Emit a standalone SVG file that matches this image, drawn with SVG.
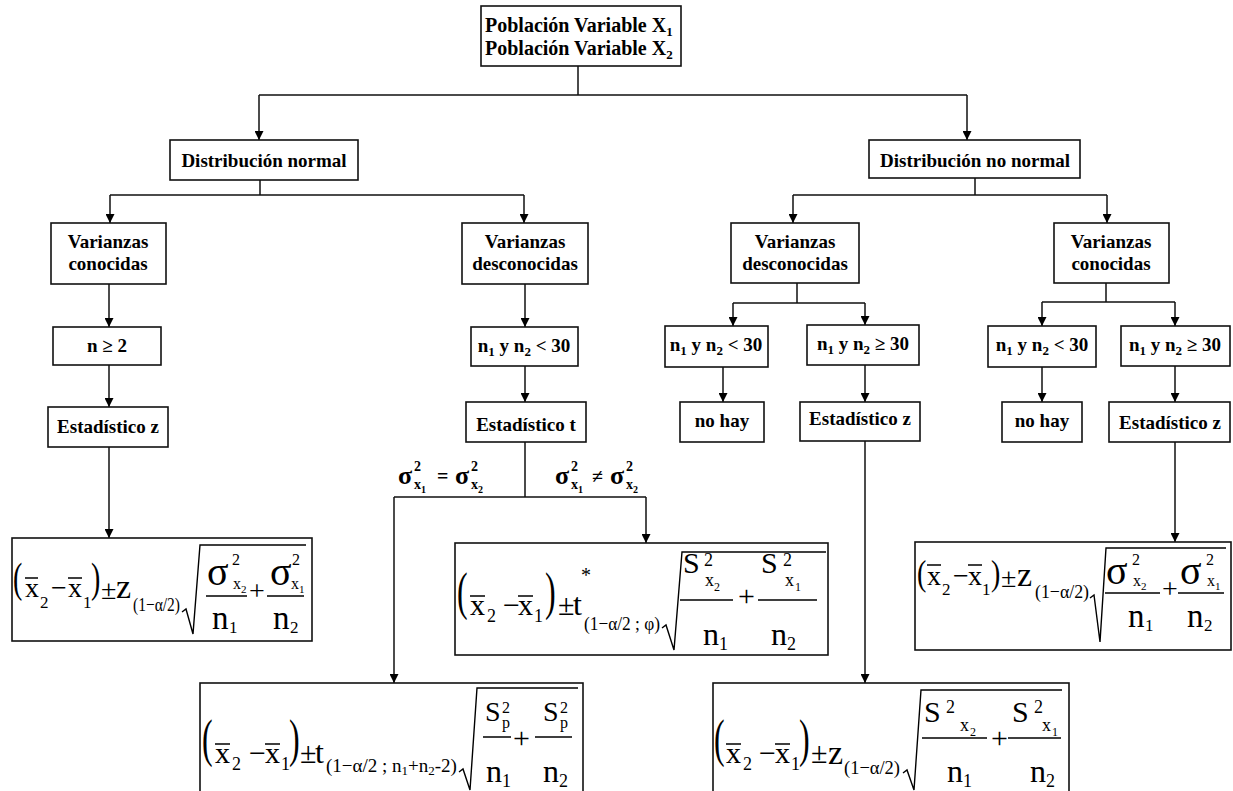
<svg xmlns="http://www.w3.org/2000/svg" width="1233" height="791" viewBox="0 0 1233 791">
<style>
.box{fill:#fff;stroke:#111;stroke-width:1.6}
.ln{fill:none;stroke:#111;stroke-width:1.5}
.rad{fill:none;stroke:#000;stroke-width:1.4}
.lb{font-family:"Liberation Serif","Times New Roman",serif;font-weight:bold;font-size:19px;text-anchor:middle;fill:#000}
.lt{font-family:"Liberation Serif","Times New Roman",serif;font-weight:bold;font-size:20px;fill:#000}
.sg{font-family:"Liberation Serif","Times New Roman",serif;font-weight:bold;fill:#000}
.f{font-family:"Liberation Serif","Times New Roman",serif;fill:#000}
</style>
<defs>
<marker id="arr" viewBox="0 0 10 10" refX="10" refY="5" markerWidth="10" markerHeight="9" markerUnits="userSpaceOnUse" orient="auto">
<path d="M0,0 L10,5 L0,10 z" fill="#000"/>
</marker>
</defs>
<rect width="1233" height="791" fill="#fff"/>

<g id="connectors" class="ln">
<path d="M578,66 V95 M259,95 H967"/>
<path d="M259,95 V140" marker-end="url(#arr)"/>
<path d="M967,95 V140" marker-end="url(#arr)"/>
<path d="M260,180 V195 M110,195 H524"/>
<path d="M110,195 V223" marker-end="url(#arr)"/>
<path d="M524,195 V223" marker-end="url(#arr)"/>
<path d="M975,178 V195 M793,195 H1107"/>
<path d="M793,195 V223" marker-end="url(#arr)"/>
<path d="M1107,195 V223" marker-end="url(#arr)"/>
<path d="M109,284 V327" marker-end="url(#arr)"/>
<path d="M109,365 V407" marker-end="url(#arr)"/>
<path d="M109,447 V538" marker-end="url(#arr)"/>
<path d="M525,284 V327" marker-end="url(#arr)"/>
<path d="M525,366 V402" marker-end="url(#arr)"/>
<path d="M525,442 V497 M394,497 H646"/>
<path d="M394,497 V683" marker-end="url(#arr)"/>
<path d="M646,497 V543" marker-end="url(#arr)"/>
<path d="M797,283 V303 M733,303 H865"/>
<path d="M733,303 V326" marker-end="url(#arr)"/>
<path d="M865,303 V325" marker-end="url(#arr)"/>
<path d="M723,367 V402" marker-end="url(#arr)"/>
<path d="M865,365 V402" marker-end="url(#arr)"/>
<path d="M865,441 V683" marker-end="url(#arr)"/>
<path d="M1106,283 V302 M1042,302 H1175"/>
<path d="M1042,302 V326" marker-end="url(#arr)"/>
<path d="M1175,302 V326" marker-end="url(#arr)"/>
<path d="M1042,367 V402" marker-end="url(#arr)"/>
<path d="M1175,366 V402" marker-end="url(#arr)"/>
<path d="M1175,442 V542" marker-end="url(#arr)"/>
</g>

<g id="labels-sigma" class="sg">
<text x="398" y="484" font-size="26">σ</text>
<text x="414" y="471" font-size="14">2</text>
<text x="414" y="489" font-size="14">x</text>
<text x="421" y="493" font-size="10">1</text>
<text x="437" y="483" font-size="20">=</text>
<text x="455" y="484" font-size="26">σ</text>
<text x="471" y="471" font-size="14">2</text>
<text x="471" y="489" font-size="14">x</text>
<text x="478" y="493" font-size="10">2</text>
<text x="555" y="484" font-size="26">σ</text>
<text x="571" y="471" font-size="14">2</text>
<text x="571" y="489" font-size="14">x</text>
<text x="578" y="493" font-size="10">1</text>
<text x="592" y="483" font-size="20">≠</text>
<text x="610" y="484" font-size="26">σ</text>
<text x="626" y="471" font-size="14">2</text>
<text x="626" y="489" font-size="14">x</text>
<text x="633" y="493" font-size="10">2</text>
</g>

<g id="n-top">
<rect class="box" x="481" y="6" width="200" height="60"/>
<text class="lt" x="485" y="32">Población Variable X<tspan font-size="13" dy="4">1</tspan></text>
<text class="lt" x="485" y="55">Población Variable X<tspan font-size="13" dy="4">2</tspan></text>
</g>
<g id="n-dist-normal">
<rect class="box" x="170" y="140" width="188" height="40"/>
<text class="lb" x="264" y="167">Distribución normal</text>
</g>
<g id="n-dist-no-normal">
<rect class="box" x="869" y="140" width="211" height="38"/>
<text class="lb" x="975" y="167">Distribución no normal</text>
</g>
<g id="n-var-con-l">
<rect class="box" x="51" y="223" width="115" height="61"/>
<text class="lb" x="108" y="248">Varianzas</text>
<text class="lb" x="108" y="270">conocidas</text>
</g>
<g id="n-var-desc-l">
<rect class="box" x="462" y="223" width="126" height="61"/>
<text class="lb" x="525" y="248">Varianzas</text>
<text class="lb" x="525" y="270">desconocidas</text>
</g>
<g id="n-var-desc-r">
<rect class="box" x="731" y="223" width="128" height="60"/>
<text class="lb" x="795" y="248">Varianzas</text>
<text class="lb" x="795" y="270">desconocidas</text>
</g>
<g id="n-var-con-r">
<rect class="box" x="1054" y="223" width="115" height="60"/>
<text class="lb" x="1111" y="248">Varianzas</text>
<text class="lb" x="1111" y="270">conocidas</text>
</g>
<g id="n-n2">
<rect class="box" x="53" y="327" width="108" height="38"/>
<text class="lb" x="107" y="352">n ≥ 2</text>
</g>
<g id="n-lt30-l">
<rect class="box" x="471" y="327" width="107" height="39"/>
<text class="lb" x="524" y="352">n<tspan font-size="13" dy="4">1</tspan><tspan dy="-4"> y n</tspan><tspan font-size="13" dy="4">2</tspan><tspan dy="-4"> &lt; 30</tspan></text>
</g>
<g id="n-lt30-m">
<rect class="box" x="665" y="326" width="103" height="41"/>
<text class="lb" x="716" y="351">n<tspan font-size="13" dy="4">1</tspan><tspan dy="-4"> y n</tspan><tspan font-size="13" dy="4">2</tspan><tspan dy="-4"> &lt; 30</tspan></text>
</g>
<g id="n-ge30-m">
<rect class="box" x="807" y="325" width="112" height="40"/>
<text class="lb" x="863" y="350">n<tspan font-size="13" dy="4">1</tspan><tspan dy="-4"> y n</tspan><tspan font-size="13" dy="4">2</tspan><tspan dy="-4"> ≥ 30</tspan></text>
</g>
<g id="n-lt30-r">
<rect class="box" x="988" y="326" width="108" height="41"/>
<text class="lb" x="1042" y="351">n<tspan font-size="13" dy="4">1</tspan><tspan dy="-4"> y n</tspan><tspan font-size="13" dy="4">2</tspan><tspan dy="-4"> &lt; 30</tspan></text>
</g>
<g id="n-ge30-r">
<rect class="box" x="1121" y="326" width="109" height="40"/>
<text class="lb" x="1175" y="351">n<tspan font-size="13" dy="4">1</tspan><tspan dy="-4"> y n</tspan><tspan font-size="13" dy="4">2</tspan><tspan dy="-4"> ≥ 30</tspan></text>
</g>
<g id="n-ez-l">
<rect class="box" x="48" y="407" width="120" height="40"/>
<text class="lb" x="108" y="433">Estadístico z</text>
</g>
<g id="n-et">
<rect class="box" x="466" y="402" width="120" height="40"/>
<text class="lb" x="526" y="431">Estadístico t</text>
</g>
<g id="n-nohay-m">
<rect class="box" x="680" y="402" width="84" height="40"/>
<text class="lb" x="722" y="427">no hay</text>
</g>
<g id="n-ez-m">
<rect class="box" x="800" y="402" width="120" height="39"/>
<text class="lb" x="860" y="425">Estadístico z</text>
</g>
<g id="n-nohay-r">
<rect class="box" x="1002" y="402" width="80" height="40"/>
<text class="lb" x="1042" y="427">no hay</text>
</g>
<g id="n-ez-r">
<rect class="box" x="1109" y="402" width="121" height="40"/>
<text class="lb" x="1170" y="429">Estadístico z</text>
</g>

<g id="f-left" class="f">
<rect class="box" x="12" y="538" width="300" height="103"/>
<text transform="translate(13,592) scale(1,1.5)" font-size="28">(</text>
<text x="25" y="597" font-size="28">x</text>
<text x="40" y="608" font-size="17">2</text>
<text x="51" y="597" font-size="28">−</text>
<text x="68" y="597" font-size="28">x</text>
<text x="83" y="608" font-size="17">1</text>
<text transform="translate(91,592) scale(1,1.5)" font-size="28">)</text>
<text x="101" y="599" font-size="28">±</text>
<text x="116" y="598" font-size="34">z</text>
<text x="133" y="611" font-size="19" textLength="47" lengthAdjust="spacingAndGlyphs">(1−α/2)</text>
<text x="207" y="585" font-size="40">σ</text>
<text x="232" y="565" font-size="16">2</text>
<text x="233" y="589" font-size="16">x</text>
<text x="241" y="593" font-size="11">2</text>
<text x="212" y="629" font-size="33">n</text>
<text x="229" y="633" font-size="17">1</text>
<text x="249" y="600" font-size="28">+</text>
<text x="270" y="585" font-size="40">σ</text>
<text x="292" y="565" font-size="16">2</text>
<text x="291" y="589" font-size="16">x</text>
<text x="299" y="593" font-size="11">1</text>
<text x="273" y="629" font-size="33">n</text>
<text x="290" y="633" font-size="17">2</text>
<path class="rad" d="M25,578 H38 M68,578 H82 M206,596 H247 M267,596 H304"/>
<path class="rad" d="M182,612 L186,609 L193,634 L200,545 H306"/>
</g>

<g id="f-mid" class="f">
<rect class="box" x="455" y="543" width="373" height="112"/>
<text transform="translate(457,609) scale(1,1.65)" font-size="32">(</text>
<text x="470" y="615" font-size="30">x</text>
<text x="487" y="622" font-size="18">2</text>
<text x="503" y="615" font-size="30">−</text>
<text x="518" y="615" font-size="30">x</text>
<text x="534" y="622" font-size="18">1</text>
<text transform="translate(545,609) scale(1,1.65)" font-size="32">)</text>
<text x="558" y="615" font-size="30">±</text>
<text x="573" y="615" font-size="32">t</text>
<text x="581" y="582" font-size="20">*</text>
<text x="584" y="630" font-size="19" textLength="76" lengthAdjust="spacingAndGlyphs">(1−α/2 ; φ)</text>
<text x="683" y="573" font-size="30">S</text>
<text x="704" y="566" font-size="18">2</text>
<text x="705" y="586" font-size="18">x</text>
<text x="714" y="591" font-size="12">2</text>
<text x="703" y="645" font-size="32">n</text>
<text x="719" y="650" font-size="18">1</text>
<text x="738" y="606" font-size="30">+</text>
<text x="761" y="573" font-size="30">S</text>
<text x="783" y="566" font-size="18">2</text>
<text x="785" y="586" font-size="18">x</text>
<text x="795" y="591" font-size="12">1</text>
<text x="771" y="645" font-size="32">n</text>
<text x="787" y="650" font-size="18">2</text>
<path class="rad" d="M470,596 H485 M518,596 H533 M680,600 H733 M758,600 H817"/>
<path class="rad" d="M662,628 L666,625 L674,650 L682,552 H826"/>
</g>

<g id="f-right" class="f">
<rect class="box" x="915" y="542" width="316" height="108"/>
<text transform="translate(917,585) scale(1,1.3)" font-size="28">(</text>
<text x="927" y="585" font-size="28">x</text>
<text x="942" y="595" font-size="17">2</text>
<text x="953" y="585" font-size="28">−</text>
<text x="968" y="585" font-size="28">x</text>
<text x="982" y="595" font-size="17">1</text>
<text transform="translate(991,585) scale(1,1.3)" font-size="28">)</text>
<text x="1001" y="587" font-size="28">±</text>
<text x="1017" y="586" font-size="34">z</text>
<text x="1035" y="598" font-size="19" textLength="54" lengthAdjust="spacingAndGlyphs">(1−α/2)</text>
<text x="1106" y="584" font-size="40">σ</text>
<text x="1132" y="565" font-size="16">2</text>
<text x="1133" y="586" font-size="16">x</text>
<text x="1141" y="590" font-size="11">2</text>
<text x="1128" y="627" font-size="33">n</text>
<text x="1145" y="631" font-size="17">1</text>
<text x="1162" y="598" font-size="28">+</text>
<text x="1180" y="584" font-size="40">σ</text>
<text x="1206" y="565" font-size="16">2</text>
<text x="1207" y="586" font-size="16">x</text>
<text x="1215" y="590" font-size="11">1</text>
<text x="1187" y="627" font-size="33">n</text>
<text x="1204" y="631" font-size="17">2</text>
<path class="rad" d="M927,565 H941 M968,565 H982 M1105,593 H1160 M1178,593 H1224"/>
<path class="rad" d="M1090,598 L1094,595 L1100,642 L1106,548 H1226"/>
</g>

<g id="f-bottom-left" class="f">
<rect class="box" x="200" y="683" width="383" height="112"/>
<text transform="translate(202,756) scale(1,1.65)" font-size="32">(</text>
<text x="215" y="763" font-size="30">x</text>
<text x="232" y="770" font-size="18">2</text>
<text x="249" y="763" font-size="30">−</text>
<text x="265" y="763" font-size="30">x</text>
<text x="281" y="770" font-size="18">1</text>
<text transform="translate(289,756) scale(1,1.65)" font-size="32">)</text>
<text x="300" y="763" font-size="30">±</text>
<text x="315" y="763" font-size="32">t</text>
<text x="326" y="772" font-size="19">(1−α/2 ; n<tspan font-size="13" dy="3">1</tspan><tspan dy="-3">+n</tspan><tspan font-size="13" dy="3">2</tspan><tspan dy="-3">-2)</tspan></text>
<text x="485" y="721" font-size="28">S</text>
<text x="502" y="713" font-size="16">2</text>
<text x="502" y="728" font-size="16">p</text>
<text x="486" y="782" font-size="32">n</text>
<text x="502" y="787" font-size="18">1</text>
<text x="513" y="748" font-size="30">+</text>
<text x="543" y="721" font-size="28">S</text>
<text x="560" y="713" font-size="16">2</text>
<text x="560" y="728" font-size="16">p</text>
<text x="543" y="782" font-size="32">n</text>
<text x="559" y="787" font-size="18">2</text>
<path class="rad" d="M215,744 H230 M265,744 H280 M483,737 H511 M535,737 H572"/>
<path class="rad" d="M459,772 L463,769 L470,790 L477,688 H578"/>
</g>

<g id="f-bottom-mid" class="f">
<rect class="box" x="713" y="683" width="356" height="112"/>
<text transform="translate(714,756) scale(1,1.65)" font-size="32">(</text>
<text x="726" y="763" font-size="30">x</text>
<text x="743" y="770" font-size="18">2</text>
<text x="759" y="763" font-size="30">−</text>
<text x="775" y="763" font-size="30">x</text>
<text x="791" y="770" font-size="18">1</text>
<text transform="translate(799,756) scale(1,1.65)" font-size="32">)</text>
<text x="811" y="763" font-size="30">±</text>
<text x="828" y="764" font-size="34">z</text>
<text x="844" y="774" font-size="19" textLength="56" lengthAdjust="spacingAndGlyphs">(1−α/2)</text>
<text x="924" y="722" font-size="30">S</text>
<text x="946" y="713" font-size="18">2</text>
<text x="960" y="731" font-size="18">x</text>
<text x="970" y="736" font-size="12">2</text>
<text x="947" y="782" font-size="32">n</text>
<text x="963" y="787" font-size="18">1</text>
<text x="991" y="748" font-size="30">+</text>
<text x="1012" y="722" font-size="30">S</text>
<text x="1034" y="713" font-size="18">2</text>
<text x="1042" y="731" font-size="18">x</text>
<text x="1052" y="736" font-size="12">1</text>
<text x="1030" y="782" font-size="32">n</text>
<text x="1046" y="787" font-size="18">2</text>
<path class="rad" d="M726,744 H741 M775,744 H790 M922,738 H987 M1008,738 H1061"/>
<path class="rad" d="M903,773 L907,770 L914,790 L921,690 H1062"/>
</g>
</svg>
